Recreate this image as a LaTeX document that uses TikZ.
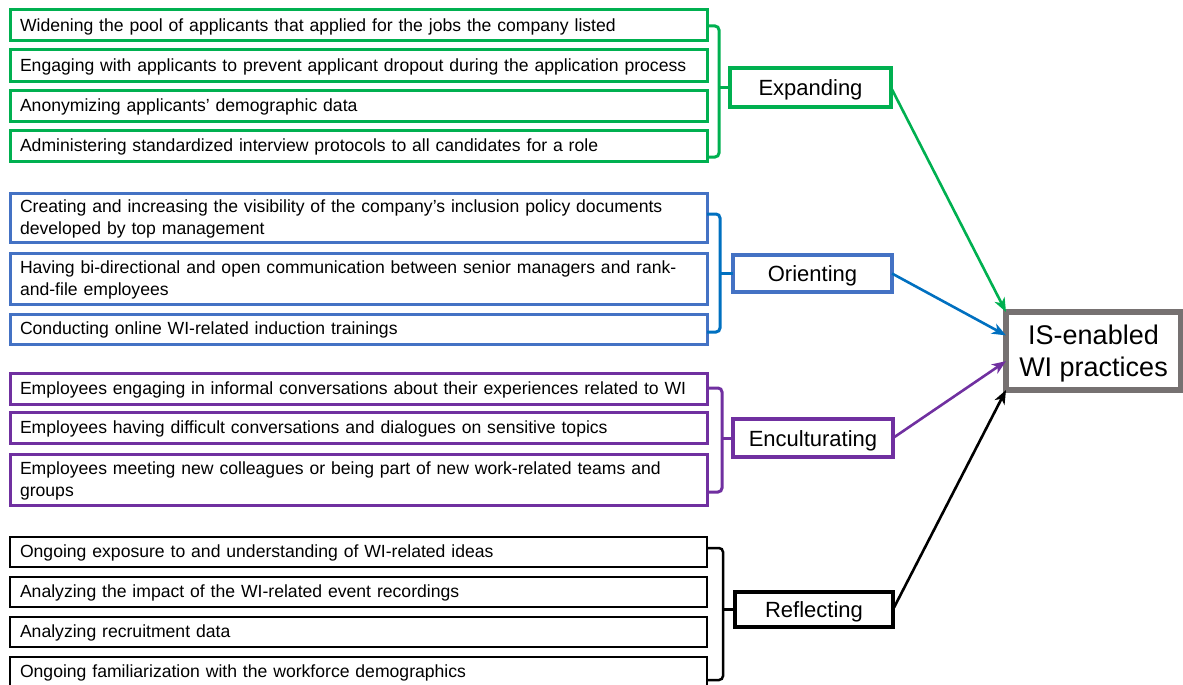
\documentclass[tikz,border=0pt]{standalone}
\usepackage{fontspec}
\setmainfont{Liberation Sans}
\usetikzlibrary{arrows.meta,calc}
\definecolor{cgreen}{RGB}{0,176,80}
\definecolor{cblue}{RGB}{68,114,196}
\definecolor{cblued}{RGB}{0,112,192}
\definecolor{cpurple}{RGB}{112,48,160}
\definecolor{cgray}{RGB}{118,113,113}
\newcommand\itemfnt{\fontsize{17.6}{22}\selectfont\hyphenpenalty=10000\relax}
\begin{document}
\begin{tikzpicture}[x=1pt,y=1pt,
 item/.style={draw, line width=3pt, anchor=north west, text width=677pt, inner xsep=10pt, inner ysep=0pt, align=left, text depth=1.5pt, font=\itemfnt, outer sep=0pt},
 twoline/.style={text depth=23.5pt},
 cat/.style={draw, line width=4.5pt, inner sep=0pt, text height=16pt, text depth=0pt, font=\fontsize{22}{26}\selectfont, outer sep=0pt},
 brk/.style={line width=3pt, rounded corners=4pt},
 tick/.style={line width=3pt},
 arr/.style={line width=2.6pt, -{Stealth[length=14pt,width=11pt,inset=4pt]}},
]
\useasboundingbox (0,0) rectangle (1183,-685);
% green group
\node[item, draw=cgreen, minimum height=31pt] (g1) at (10,-10) {Widening the pool of applicants that applied for the jobs the company listed};
\node[item, draw=cgreen, minimum height=31pt] (g2) at (10,-50) {Engaging with applicants to prevent applicant dropout during the application process};
\node[item, draw=cgreen, minimum height=31pt] (g3) at (10,-90) {Anonymizing applicants’ demographic data};
\node[item, draw=cgreen, minimum height=31pt] (g4) at (10,-130) {Administering standardized interview protocols to all candidates for a role};
% blue group
\node[item, twoline, draw=cblue, minimum height=49pt] (b1) at (10,-193) {Creating and increasing the visibility of the company’s inclusion policy documents\\developed by top management};
\node[item, twoline, draw=cblue, minimum height=51pt] (b2) at (10,-253) {Having bi-directional and open communication between senior managers and rank-\\and-file employees};
\node[item, draw=cblue, minimum height=30pt] (b3) at (10,-314) {Conducting online WI-related induction trainings};
% purple group
\node[item, draw=cpurple, minimum height=31pt] (p1) at (10,-373) {Employees engaging in informal conversations about their experiences related to WI};
\node[item, draw=cpurple, minimum height=31pt] (p2) at (10,-412) {Employees having difficult conversations and dialogues on sensitive topics};
\node[item, twoline, draw=cpurple, minimum height=51pt] (p3) at (10,-454) {Employees meeting new colleagues or being part of new work-related teams and\\groups};
% black group
\node[item, draw=black, line width=2.5pt, minimum height=30pt] (k1) at (10,-537) {Ongoing exposure to and understanding of WI-related ideas};
\node[item, draw=black, line width=2.5pt, minimum height=30pt] (k2) at (10,-577) {Analyzing the impact of the WI-related event recordings};
\node[item, draw=black, line width=2.5pt, minimum height=30pt] (k3) at (10,-617) {Analyzing recruitment data};
\node[item, draw=black, line width=2.5pt, minimum height=30pt] (k4) at (10,-657) {Ongoing familiarization with the workforce demographics};
% category nodes
\node[cat, draw=cgreen, minimum width=161pt, minimum height=39pt] (exp) at (810.5,-87.5) {Expanding};
\node[cat, draw=cblue, minimum width=159pt, minimum height=37pt] (ori) at (812.5,-273.5) {Orienting};
\node[cat, draw=cpurple, minimum width=160pt, minimum height=38pt] (enc) at (813,-438) {Enculturating};
\node[cat, draw=black, line width=3.2pt, minimum width=158pt, minimum height=35pt] (ref) at (814,-609.5) {Reflecting};
\node[draw=cgray, line width=6pt, minimum width=175pt, minimum height=78pt, inner sep=0pt, outer sep=0pt, align=center, text depth=0pt, font=\fontsize{27}{32}\selectfont] (is) at (1093.5,-351) {IS-enabled\\WI practices};
% brackets
\draw[brk, cgreen] (707,-26) -- (719,-26) -- (719,-157) -- (707,-157);
\draw[tick, cgreen] (719,-87.5) -- (exp.west);
\draw[brk, cblued] (707,-214) -- (720,-214) -- (720,-332) -- (707,-332);
\draw[tick, cblued] (720,-273.5) -- (ori.west);
\draw[brk, cpurple] (707,-388) -- (722,-388) -- (722,-492) -- (707,-492);
\draw[tick, cpurple] (722,-438) -- (enc.west);
\draw[brk, black, line width=2.5pt] (707,-548) -- (723,-548) -- (723,-680) -- (707,-680);
\draw[tick, black, line width=2.5pt] (723,-609.5) -- (ref.west);
% arrows
\draw[arr, cgreen] (exp.east) -- (is.north west);
\draw[arr, cblued] (ori.east) -- ($(is.north west)!0.3!(is.south west)$);
\draw[arr, cpurple] (enc.east) -- ($(is.north west)!0.63!(is.south west)$);
\draw[arr, black] (ref.east) -- (is.south west);
\end{tikzpicture}
\end{document}
